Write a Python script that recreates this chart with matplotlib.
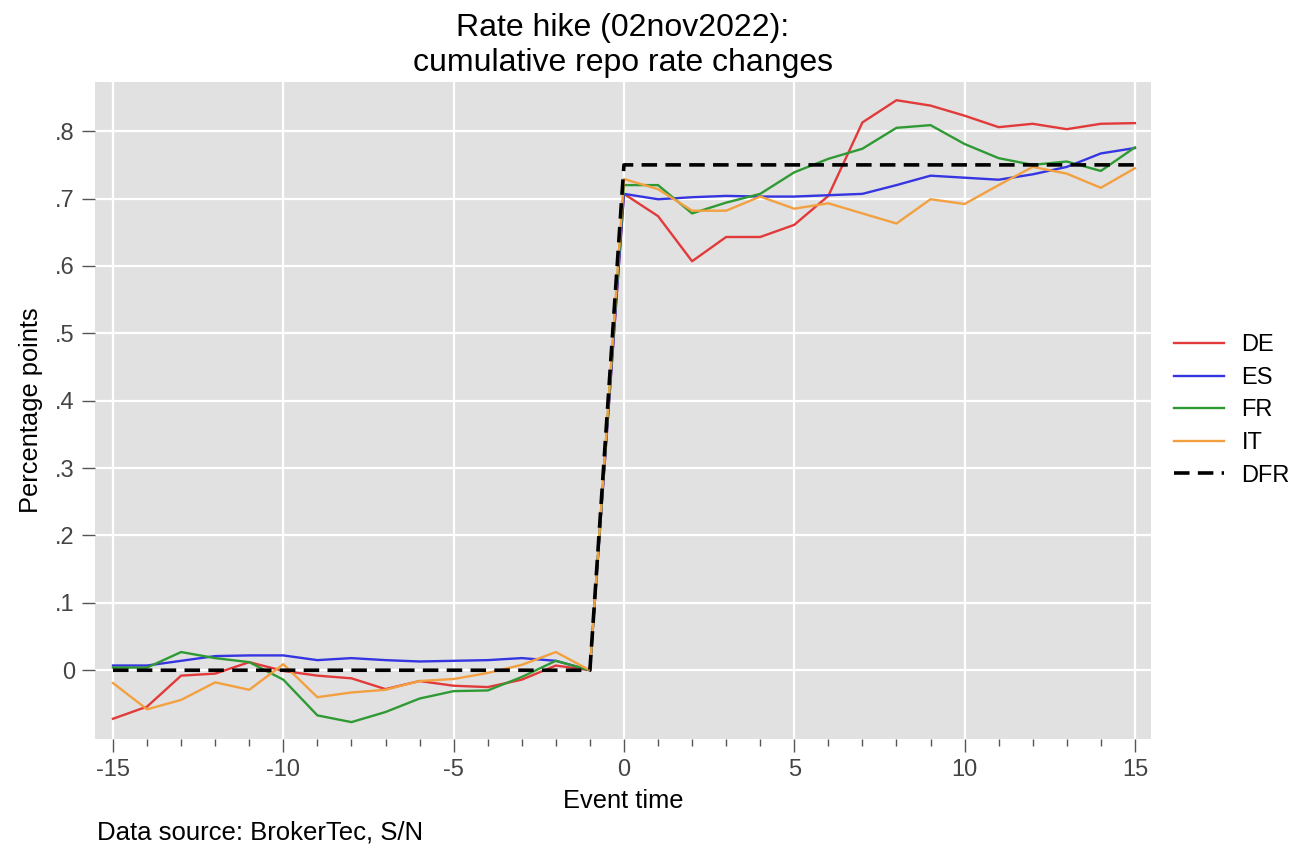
import numpy as np
import matplotlib
matplotlib.use("Agg")
import matplotlib.pyplot as plt
from matplotlib.ticker import MultipleLocator

plt.rcParams['font.family'] = ['Liberation Sans', 'DejaVu Sans']
plt.rcParams['axes.unicode_minus'] = False

# event time (days around the announcement)
event_time = list(range(-15, 16))

# cumulative repo rate changes, percentage points
de = [-0.072, -0.054, -0.008, -0.005, 0.012, -0.001, -0.008, -0.012, -0.028, -0.016,
      -0.023, -0.025, -0.014, 0.007, 0.0,
      0.707, 0.674, 0.607, 0.643, 0.643, 0.661, 0.704, 0.813, 0.846, 0.838,
      0.823, 0.806, 0.811, 0.803, 0.811, 0.812]
es = [0.007, 0.007, 0.014, 0.021, 0.022, 0.022, 0.015, 0.018, 0.015, 0.013,
      0.014, 0.015, 0.018, 0.014, 0.0,
      0.707, 0.699, 0.702, 0.704, 0.703, 0.703, 0.705, 0.707, 0.720, 0.734,
      0.731, 0.728, 0.736, 0.747, 0.767, 0.775]
fr = [0.004, 0.004, 0.027, 0.018, 0.012, -0.014, -0.067, -0.077, -0.062, -0.042,
      -0.031, -0.030, -0.010, 0.014, 0.0,
      0.720, 0.720, 0.678, 0.694, 0.707, 0.739, 0.759, 0.774, 0.805, 0.809,
      0.781, 0.760, 0.750, 0.755, 0.741, 0.776]
it = [-0.019, -0.058, -0.044, -0.018, -0.029, 0.009, -0.040, -0.033, -0.029, -0.016,
      -0.013, -0.004, 0.008, 0.027, 0.0,
      0.729, 0.714, 0.682, 0.682, 0.703, 0.685, 0.693, 0.678, 0.663, 0.699,
      0.692, 0.720, 0.747, 0.737, 0.716, 0.745]
dfr = [0.0] * 15 + [0.75] * 16

series = [("DE", de, "#e23a3a"), ("ES", es, "#3535e2"),
          ("FR", fr, "#2f9a34"), ("IT", it, "#f2a040")]

y_ticks = [0, 0.1, 0.2, 0.3, 0.4, 0.5, 0.6, 0.7, 0.8]
y_labels = ["0", ".1", ".2", ".3", ".4", ".5", ".6", ".7", ".8"]
x_ticks = [-15, -10, -5, 0, 5, 10, 15]

fig = plt.figure(figsize=(12.99, 8.49), dpi=100)
ax = fig.add_axes([0.0731, 0.1296, 0.8129, 0.7738])
ax.set_facecolor("#e1e1e1")
for s in ax.spines.values():
    s.set_visible(False)

for name, vals, col in series:
    ax.plot(event_time, vals, color=col, lw=1.7, label=name)
ax.plot(event_time, dfr, color="black", lw=2.6, dashes=(4.3, 2.3),
        dash_capstyle="butt", label="DFR")

ax.set_xlim(-15.53, 15.47)
ax.set_ylim(-0.102, 0.873)
ax.set_xticks(x_ticks)
ax.xaxis.set_minor_locator(MultipleLocator(1))
ax.set_yticks(y_ticks)
ax.set_yticklabels(y_labels)
ax.grid(True, which="major", color="white", lw=1.6)
ax.set_axisbelow(True)
ax.tick_params(axis="both", which="major", length=9.5, width=1, color="#555555",
               labelsize=17, labelcolor="#444444", pad=5)
ax.tick_params(axis="x", which="minor", length=5, width=1, color="#555555")

ax.set_xlabel("Event time", fontsize=18.3, labelpad=6)
ax.set_ylabel("Percentage points", fontsize=18.3, labelpad=9)
ax.set_title("Rate hike (02nov2022):\ncumulative repo rate changes", fontsize=23, pad=8)

ax.legend(loc="center left", bbox_to_anchor=(1.002, 0.5), frameon=False,
          fontsize=17, handlelength=2.1, handletextpad=0.75, labelspacing=0.45)

fig.text(0.075, 0.019, "Data source: BrokerTec, S/N", fontsize=18.5, va="center")

fig.savefig("out.png", dpi=100)
